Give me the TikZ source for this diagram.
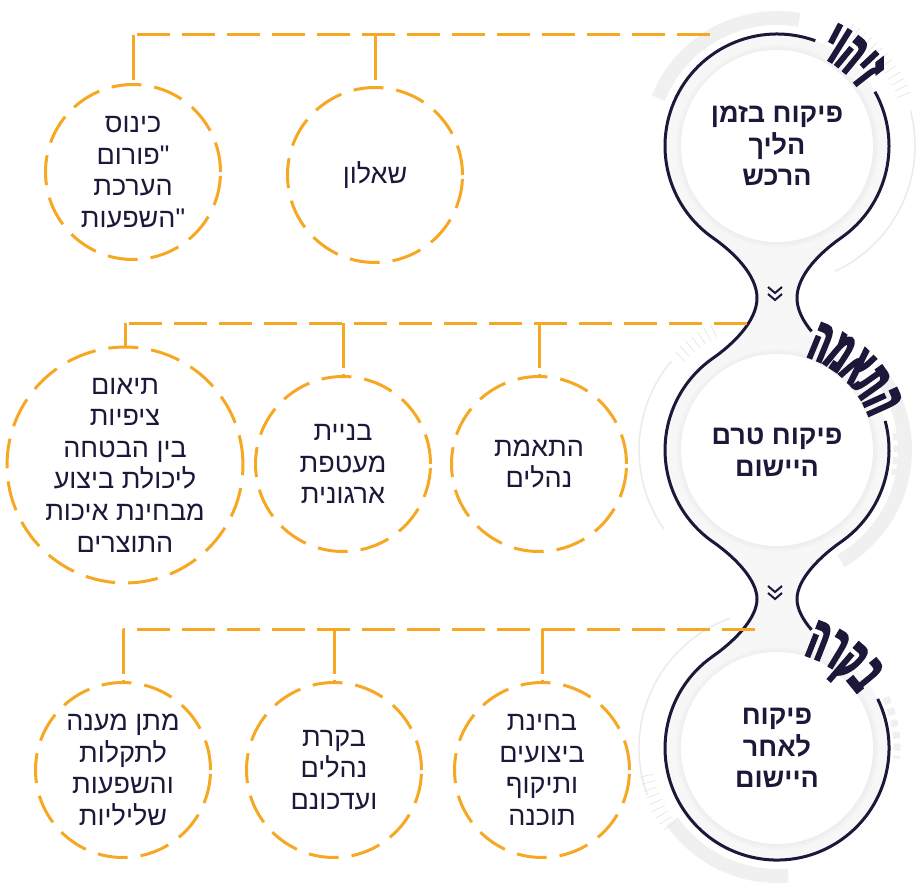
\documentclass[tikz,border=0pt]{standalone}
\usepackage{fontspec}
\setmainfont{Liberation Sans}
\newfontfamily\hebfont[Script=Hebrew]{Liberation Sans}
\newfontfamily\arcfont[Script=Hebrew, FakeStretch=0.44, FakeBold=4]{Liberation Sans}
\TeXXeTstate=1
\usetikzlibrary{decorations.text, shadows}
\definecolor{navy}{RGB}{27,24,58}
\definecolor{amber}{RGB}{247,168,35}
\newcommand{\heb}[1]{\beginR#1\endR}
\newcommand{\arclabel}{\arcfont\bfseries\fontsize{60}{60}\selectfont\color{navy}}

\tikzset{
  link/.style={amber, line width=3pt, dash pattern=on 33pt off 12pt},
  drop/.style={amber, line width=3pt, dash pattern=on 45pt off 6pt on 3pt off 99pt},
  subcircle/.style={circle, draw=amber, line width=3pt, dash pattern=on 30pt off 13pt,
    minimum size=#1, inner sep=0pt, align=center, text=navy,
    font=\hebfont\fontsize{27}{31.6}\selectfont},
  subcircle/.default=175pt,
  title/.style={align=center, text=navy, font=\hebfont\bfseries\fontsize{27}{31.6}\selectfont},
  outline/.style={navy, line width=3pt},
  band/.style={gray!12, line width=14pt},
  thinring/.style={gray!16, line width=1.5pt},
  tick/.style={gray!22, line width=0.6pt},
  blocks/.style={gray!12, line width=7pt, dash pattern=on 7pt off 5pt},
  chevron/.style={navy, line width=2pt},
}

\begin{document}
\begin{tikzpicture}[x=1pt, y=1pt]
    \useasboundingbox (0,0) rectangle (922,-891);
    \fill[white] (0,0) rectangle (922,-891);

    % grey rings behind the chain
    \begin{scope}[shift={(777,-146)}]
        \draw[band] (80:128) arc(80:158:128);
        \draw[thinring] (15:138) arc(15:-65:138);
        \foreach \a in {22,25,...,58} \draw[tick] (\a:130) -- (\a:144);
        \draw[blocks] (205:100) arc(205:240:100);
    \end{scope}
    \begin{scope}[shift={(777,-450)}]
        \draw[band] (35:128) arc(35:-60:128);
        \draw[thinring] (140:138) arc(140:215:138);
        \foreach \a in {118,121,...,136} \draw[tick] (\a:128) -- (\a:142);
        \draw[blocks] (150:102) arc(150:175:102);
        \draw[blocks] (235:102) arc(235:260:102);
        \draw[blocks] (8:120) arc(8:-12:120);
    \end{scope}
    \begin{scope}[shift={(777,-748)}]
        \draw[band] (215:128) arc(215:275:128);
        \draw[thinring] (110:138) arc(110:200:138);
        \foreach \a in {192,195,...,216} \draw[tick] (\a:126) -- (\a:140);
        \draw[blocks] (25:120) arc(25:-5:120);
    \end{scope}

    % chain body
    \fill[gray!6] (777,-146) ++(-55:112) arc(-55:235:112)
        .. controls (733.3,-252) and (757,-275) .. (757,-298)
        .. controls (757,-321) and (733.3,-344) .. (712.8,-358.3)
        arc(125:235:112)
        .. controls (733.3,-556) and (757,-579) .. (757,-599)
        .. controls (757,-619) and (733.3,-642) .. (712.8,-656.3)
        arc(125:415:112)
        .. controls (820.7,-642) and (797,-619) .. (797,-599)
        .. controls (797,-579) and (820.7,-556) .. (841.2,-541.7)
        arc(-55:55:112)
        .. controls (820.7,-344) and (797,-321) .. (797,-298)
        .. controls (797,-275) and (820.7,-252) .. (841.2,-237.7) -- cycle;
    \foreach \y in {-146,-450,-748}
        \fill[white, circular drop shadow={shadow xshift=0pt, shadow yshift=0pt, shadow scale=1.06, opacity=0.2}]
            (777,\y) circle (96);

    % outline
    \draw[outline] (777,-146) ++(70:112) arc(70:235:112)
        .. controls (733.3,-252) and (757,-275) .. (757,-298)
        .. controls (757,-321) and (733.3,-344) .. (712.8,-358.3)
        arc(125:235:112)
        .. controls (733.3,-556) and (757,-579) .. (757,-599)
        .. controls (757,-619) and (733.3,-642) .. (712.8,-656.3)
        arc(125:386:112);
    \draw[outline] (777,-146) ++(29:112) arc(29:-55:112)
        .. controls (820.7,-252) and (797,-275) .. (797,-298)
        .. controls (797,-309.5) and (802.9,-321) .. (811.6,-331.4);
    \draw[outline] (777,-450) ++(15:112) arc(15:-55:112)
        .. controls (820.7,-556) and (797,-579) .. (797,-599)
        .. controls (797,-609) and (802.9,-619.8) .. (811.5,-629.8);

    % chevrons
    \draw[chevron] (768,-287) -- (775,-293) -- (782,-287)
        (768,-294) -- (775,-300) -- (782,-294);
    \draw[chevron] (768,-586) -- (775,-592) -- (782,-586)
        (768,-593) -- (775,-599) -- (782,-593);

    % stage labels
    \path[shift={(777,-146)}, decorate, decoration={text along path, text align=center,
        text={|\arclabel|יוהיז}}] (90:100) arc(90:10:100);
    \path[shift={(777,-450)}, decorate, decoration={text along path, text align=center,
        text={|\arclabel|המאתה}}] (88:98) arc(88:4:98);
    \path[shift={(777,-748)}, decorate, decoration={text along path, text align=center,
        text={|\arclabel|הרקב}}] (94:97) arc(94:14:97);

    % stage titles
    \node[title] (b1) at (777,-146) {\heb{פיקוח בזמן}\\\heb{הליך}\\\heb{הרכש}};
    \node[title] (b2) at (777,-452) {\heb{פיקוח טרם}\\\heb{היישום}};
    \node[title] (b3) at (777,-748) {\heb{פיקוח}\\\heb{לאחר}\\\heb{היישום}};

    % row 1
    \node[subcircle] (c11) at (133,-172) {\heb{כינוס}\\\heb{"פורום}\\\heb{הערכת}\\\heb{"השפעות}};
    \node[subcircle] (c12) at (375,-175) {\heb{שאלון}};
    \coordinate (h1) at (710,-35);
    \draw[link] (h1) -- (h1 -| c11.north);
    \draw[drop] (h1 -| c11.north) -- (c11.north);
    \draw[drop] (h1 -| c12.north) -- (c12.north);

    % row 2
    \node[subcircle=220pt] (c21) at (125,-465) {\heb{תיאום}\\\heb{ציפיות}\\\heb{בין הבטחה}\\\heb{ליכולת ביצוע}\\\heb{מבחינת איכות}\\\heb{התוצרים}};
    \node[subcircle] (c22) at (343,-464) {\heb{בניית}\\\heb{מעטפת}\\\heb{ארגונית}};
    \node[subcircle] (c23) at (539,-464) {\heb{התאמת}\\\heb{נהלים}};
    \coordinate (h2) at (747,-323);
    \draw[link] (h2) -- (h2 -| c21.north);
    \draw[drop] (h2 -| c21.north) -- (c21.north);
    \draw[drop] (h2 -| c22.north) -- (c22.north);
    \draw[drop] (h2 -| c23.north) -- (c23.north);

    % row 3
    \node[subcircle] (c31) at (123,-770) {\heb{מתן מענה}\\\heb{לתקלות}\\\heb{והשפעות}\\\heb{שליליות}};
    \node[subcircle] (c32) at (334,-770) {\heb{בקרת}\\\heb{נהלים}\\\heb{ועדכונם}};
    \node[subcircle] (c33) at (542,-770) {\heb{בחינת}\\\heb{ביצועים}\\\heb{ותיקוף}\\\heb{תוכנה}};
    \coordinate (h3) at (755,-629);
    \draw[link] (h3) -- (h3 -| c31.north);
    \draw[drop] (h3 -| c31.north) -- (c31.north);
    \draw[drop] (h3 -| c32.north) -- (c32.north);
    \draw[drop] (h3 -| c33.north) -- (c33.north);
\end{tikzpicture}
\end{document}
